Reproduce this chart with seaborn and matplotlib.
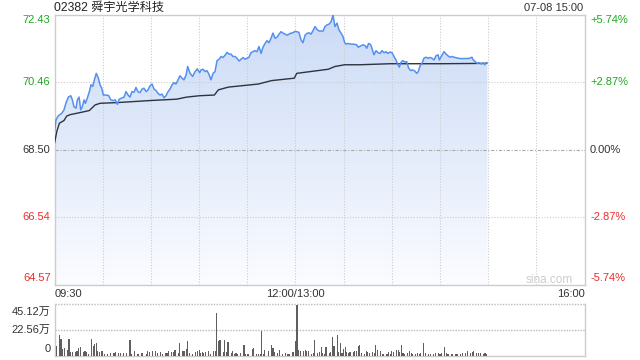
import numpy as np
import pandas as pd
import matplotlib
matplotlib.use("Agg")
import matplotlib.pyplot as plt
import seaborn as sns
from matplotlib.colors import LinearSegmentedColormap

# ---------------- data ----------------
title = "02382 舜宇光学科技"
stamp = "07-08 15:00"
y_ticks = [72.43, 70.46, 68.50, 66.54, 64.57]
y_labels = ["72.43", "70.46", "68.50", "66.54", "64.57"]
pct_labels = ["+5.74%", "+2.87%", "0.00%", "-2.87%", "-5.74%"]
x_ticks = [0, 150, 330]          # minutes of trading (lunch removed)
x_labels = ["09:30", "12:00/13:00", "16:00"]
vol_ticks = [45.12, 22.56, 0]
vol_labels = ["45.12万", "22.56万", "0"]

price_min = [0, 0.9, 2.4, 4.5, 5.9, 7.2, 8.6, 10.1, 11.1, 12.1,
             13.4, 14.2, 15.3, 16.3, 17.3, 18.4, 19.2, 20.4, 21.7, 22.7,
             23.8, 24.8, 26.0, 27.3, 28.3, 29.4, 30.4, 32.5, 33.8, 35.0,
             36.6, 37.9, 39.1, 40.3, 41.8, 43.3, 44.5, 45.8, 47.0, 48.2,
             49.5, 50.7, 51.9, 53.2, 54.5, 55.7, 57.0, 58.2, 59.5, 60.7,
             62.0, 63.2, 64.4, 65.7, 66.9, 68.2, 69.4, 70.7, 71.9, 73.2,
             74.4, 75.6, 76.9, 78.1, 79.4, 80.6, 81.9, 82.9, 84.4, 86.0,
             87.5, 88.9, 90.4, 91.2, 92.5, 93.7, 94.9, 96.2, 97.4, 98.7,
             99.9, 101.2, 102.4, 103.7, 104.9, 106.2, 107.4, 108.6, 109.9, 111.1,
             112.4, 113.6, 114.9, 116.1, 117.4, 118.6, 119.9, 121.1, 122.3, 123.6,
             124.8, 126.1, 127.3, 128.6, 129.8, 131.1, 132.3, 133.5, 134.8, 136.0,
             137.3, 138.5, 139.8, 141.0, 142.3, 143.5, 144.8, 146.0, 147.2, 148.5,
             149.7, 151.0, 152.2, 153.5, 154.7, 156.0, 157.2, 158.5, 159.7, 160.9,
             162.2, 163.4, 164.7, 165.9, 167.2, 168.4, 169.7, 170.9, 172.2, 173.4,
             174.6, 175.9, 177.1, 178.4, 179.6, 180.7, 181.5, 182.7, 184.0, 186.0,
             188.1, 189.1, 190.6, 192.3, 193.5, 194.4, 195.6, 196.9, 198.1, 198.9,
             200.2, 201.4, 202.7, 203.9, 205.2, 206.4, 207.6, 208.9, 210.1, 211.4,
             212.6, 213.9, 214.7, 215.6, 216.8, 218.1, 219.3, 220.5, 221.8, 223.0,
             224.3, 225.5, 226.5, 227.6, 228.8, 230.0, 231.3, 232.5, 233.8, 235.0,
             236.3, 237.5, 238.8, 239.6, 240.8, 242.5, 243.8, 245.0, 246.2, 247.5,
             248.7, 250.4, 252.5, 254.5, 256.6, 258.7, 259.9, 260.7, 262.0, 263.2,
             264.5, 265.7, 267.0, 267.8, 268.7, 269.5]
price_val = [69.03, 69.37, 69.49, 69.56, 69.66, 69.87, 70.03, 70.07, 69.95, 69.75,
             69.71, 69.95, 70.03, 69.66, 69.75, 69.95, 69.85, 70.00, 70.19, 70.39,
             70.34, 70.53, 70.72, 70.58, 70.39, 70.29, 70.09, 70.09, 70.07, 69.95,
             69.93, 69.95, 69.82, 69.97, 70.00, 70.03, 70.19, 70.09, 70.03, 70.19,
             70.17, 70.31, 70.19, 70.16, 70.26, 70.29, 70.19, 70.24, 70.36, 70.41,
             70.26, 70.22, 70.14, 70.09, 70.12, 70.01, 70.07, 70.19, 70.26, 70.39,
             70.45, 70.41, 70.53, 70.65, 70.58, 70.53, 70.67, 70.92, 70.72, 70.63,
             70.77, 70.85, 70.74, 70.82, 70.84, 70.77, 70.80, 70.69, 70.53, 70.72,
             70.77, 71.09, 71.13, 71.21, 71.18, 71.25, 71.33, 71.28, 71.28, 71.21,
             71.21, 71.16, 71.08, 71.13, 71.18, 71.13, 71.16, 71.19, 71.32, 71.35,
             71.38, 71.35, 71.50, 71.30, 71.48, 71.59, 71.67, 71.61, 71.74, 71.89,
             71.74, 71.77, 71.86, 71.93, 71.89, 71.86, 71.83, 71.86, 71.89, 71.90,
             71.94, 71.93, 71.91, 71.69, 71.61, 71.83, 71.88, 71.90, 71.86, 71.96,
             72.08, 72.00, 71.95, 71.95, 71.95, 72.08, 72.13, 72.15, 72.22, 72.42,
             72.08, 72.18, 71.98, 71.89, 71.79, 71.61, 71.57, 71.59, 71.57, 71.57,
             71.55, 71.48, 71.52, 71.55, 71.52, 71.45, 71.59, 71.55, 71.38, 71.26,
             71.38, 71.32, 71.30, 71.38, 71.32, 71.35, 71.30, 71.34, 71.32, 71.21,
             71.11, 70.97, 70.90, 71.03, 71.09, 71.05, 71.06, 70.87, 70.80, 70.82,
             70.79, 70.72, 70.77, 70.94, 71.01, 71.16, 71.19, 71.16, 71.18, 71.16,
             71.11, 71.23, 71.26, 71.11, 71.21, 71.35, 71.28, 71.23, 71.19, 71.21,
             71.19, 71.17, 71.15, 71.15, 71.15, 71.16, 71.19, 71.11, 71.06, 71.01,
             71.03, 70.99, 71.03, 70.97, 71.03, 71.03]

avg_min = [0, 1.4, 3.0, 5.9, 7.6, 9.7, 15.9, 21.7, 25.2, 28.3,
           38.7, 49.1, 59.5, 76.1, 82.3, 90.4, 99.5, 102.0, 108.2, 126.9,
           135.2, 149.3, 150.8, 170.5, 174.6, 180.7, 190.2, 208.9, 240.0, 269.1]
avg_val = [68.69, 69.03, 69.27, 69.35, 69.48, 69.52, 69.58, 69.64, 69.80, 69.85,
           69.87, 69.90, 69.93, 69.97, 70.03, 70.07, 70.09, 70.24, 70.32, 70.41,
           70.51, 70.58, 70.72, 70.84, 70.92, 70.97, 70.97, 71.00, 71.00, 71.01]

vol_min = [0, 1, 3, 4, 5, 6, 8, 9, 10, 11,
           13, 14, 15, 16, 18, 19, 20, 21, 23, 24,
           25, 26, 27, 28, 29, 30, 31, 33, 35, 37,
           38, 40, 41, 43, 45, 47, 48, 50, 52, 54,
           55, 57, 58, 59, 61, 63, 64, 66, 67, 69,
           70, 71, 73, 74, 75, 77, 78, 80, 81, 82,
           83, 84, 86, 88, 89, 90, 91, 92, 93, 94,
           96, 97, 99, 100, 101, 102, 103, 105, 106, 107,
           108, 110, 111, 112, 113, 114, 116, 118, 119, 120,
           121, 123, 124, 126, 127, 128, 129, 130, 131, 133,
           135, 136, 137, 139, 140, 142, 144, 145, 146, 148,
           149, 150, 151, 152, 153, 155, 156, 157, 158, 160,
           161, 162, 164, 165, 166, 167, 168, 169, 171, 172,
           173, 174, 176, 177, 178, 179, 180, 181, 182, 183,
           184, 186, 187, 188, 189, 190, 191, 193, 194, 195,
           196, 198, 199, 200, 201, 203, 204, 205, 207, 208,
           209, 210, 211, 213, 214, 215, 216, 217, 218, 220,
           221, 222, 223, 225, 226, 227, 228, 230, 231, 233,
           234, 236, 237, 239, 240, 241, 243, 244, 245, 247,
           248, 250, 251, 253, 254, 256, 257, 259, 260, 261,
           263, 264, 265, 267, 268, 269]
vol_val = [6.8, 8.0, 17.7, 14.8, 5.9, 6.5, 5.0, 15.0, 3.0, 3.5,
           3.5, 3.8, 6.8, 7.1, 3.5, 4.4, 3.0, 1.5, 14.2, 8.0,
           10.3, 10.9, 4.4, 3.5, 4.4, 4.4, 1.5, 1.5, 2.4, 2.1,
           2.7, 2.4, 2.1, 2.1, 2.1, 13.3, 0.9, 4.4, 1.5, 2.1,
           1.8, 1.5, 3.8, 3.0, 3.8, 4.4, 2.1, 3.0, 1.5, 2.1,
           2.1, 4.4, 3.0, 3.5, 5.3, 2.1, 10.9, 3.8, 3.8, 5.9,
           12.4, 2.1, 1.5, 2.7, 4.4, 5.3, 2.1, 3.0, 2.1, 3.0,
           3.8, 1.5, 4.4, 4.4, 37.5, 12.4, 13.9, 3.0, 13.3, 3.0,
           11.5, 2.4, 4.4, 1.5, 2.1, 1.5, 2.1, 9.7, 1.5, 1.5,
           1.5, 5.9, 6.8, 1.5, 1.5, 1.5, 21.5, 1.5, 5.0, 4.4,
           9.7, 6.8, 3.0, 2.4, 5.0, 1.5, 2.1, 1.5, 1.5, 3.0,
           2.7, 12.4, 44.3, 5.0, 4.4, 3.8, 5.0, 3.8, 3.8, 1.5,
           2.1, 13.3, 2.1, 3.0, 7.4, 2.1, 1.5, 7.4, 2.1, 3.0,
           16.2, 8.0, 17.7, 3.0, 10.9, 2.1, 5.9, 7.4, 3.0, 2.1,
           3.0, 3.0, 3.8, 4.4, 8.0, 8.9, 2.1, 1.5, 4.4, 3.0,
           2.1, 3.0, 2.1, 8.9, 5.0, 4.4, 1.5, 1.5, 1.5, 3.0,
           1.5, 3.8, 3.0, 5.0, 5.0, 3.0, 8.9, 2.1, 1.5, 2.1,
           4.4, 2.1, 1.5, 1.5, 2.1, 1.5, 2.1, 10.9, 2.1, 1.5,
           1.5, 1.5, 2.1, 2.1, 1.5, 2.1, 7.4, 2.1, 1.5, 1.5,
           1.5, 1.5, 1.5, 1.5, 2.1, 2.1, 4.4, 2.1, 3.0, 3.8,
           2.1, 2.1, 2.1, 1.5, 2.1, 1.5]

# ---------------- style ----------------
sns.set_style("white")
plt.rcParams["font.family"] = ["Liberation Sans", "Noto Sans CJK SC"]

GREEN = "#1fa81f"
RED = "#f02b2b"
DARK = "#333333"
GRID = "#cccccc"
label_colors = [GREEN, GREEN, DARK, RED, RED]

fig = plt.figure(figsize=(6.4, 3.6), dpi=100)
ax = fig.add_axes([0.0852, 0.2083, 0.8281, 0.7514])
vax = fig.add_axes([0.0852, 0.0125, 0.8281, 0.1417])

df = pd.DataFrame({"m": price_min, "p": price_val})
adf = pd.DataFrame({"m": avg_min, "p": avg_val})
ymin, ymax = y_ticks[-1], y_ticks[0]
xmax = x_ticks[-1]

# gradient fill under price line
poly = ax.fill_between(df["m"], df["p"], ymin, color="none", lw=0)
cmap = LinearSegmentedColormap.from_list("g", ["#fbfcff", "#cbdbf6"])
grad = np.linspace(1, 0, 256).reshape(-1, 1)
im = ax.imshow(grad, extent=[0, xmax, ymin, ymax], aspect="auto", cmap=cmap,
               vmin=0, vmax=1, zorder=1)
im.set_clip_path(poly.get_paths()[0], transform=ax.transData)

# grid
for m in range(30, xmax, 30):
    ax.axvline(m, color=GRID, lw=0.8, ls=(0, (1, 1.5)), zorder=2)
for y in (y_ticks[1], y_ticks[3]):
    ax.axhline(y, color=GRID, lw=0.8, ls=(0, (1, 1.5)), zorder=2)
ax.axhline(y_ticks[2], color="#aaaaaa", lw=0.8, ls=(0, (3, 1.5, 1, 1.5)), zorder=2)

sns.lineplot(data=adf, x="m", y="p", ax=ax, color="#2d3340", lw=1.0, zorder=3)
sns.lineplot(data=df, x="m", y="p", ax=ax, color="#5590ef", lw=1.1, zorder=4)

ax.set_xlim(0, xmax)
ax.set_ylim(ymin, ymax)
ax.set_xticks([])
ax.set_yticks([])
ax.set_xlabel("")
ax.set_ylabel("")
for s in ax.spines.values():
    s.set_color(GRID)
    s.set_linewidth(1)

# y labels
n = len(y_ticks)
for i, (y, lab, pct, col) in enumerate(zip(y_ticks, y_labels, pct_labels, label_colors)):
    dy = -5.5 if i == 0 else (7.0 if i == n - 1 else 0)
    ax.annotate(lab, xy=(0, y), xycoords=("axes fraction", "data"),
                xytext=(-4, dy), textcoords="offset pixels",
                ha="right", va="center", fontsize=8, color=col)
    ax.annotate(pct, xy=(1, y), xycoords=("axes fraction", "data"),
                xytext=(5.5, dy), textcoords="offset pixels",
                ha="left", va="center", fontsize=8, color=col)

# x labels
for m, lab, ha in zip(x_ticks, x_labels, ["left", "center", "right"]):
    ax.annotate(lab, xy=(m, 0), xycoords=("data", "axes fraction"),
                xytext=(0, -8.5), textcoords="offset pixels",
                ha=ha, va="center", fontsize=8, color=DARK)

ax.text(0.978, 0.009, "sina.com", transform=ax.transAxes, ha="right",
        va="baseline", fontsize=8.5, color="#cdcdcd", zorder=5)

fig.text(54.3 / 640, 1 - 7.7 / 360, title, ha="left", va="center",
         fontsize=8.7, color="#222222")
fig.text(583.5 / 640, 1 - 7.7 / 360, stamp, ha="right", va="center",
         fontsize=8, color=DARK)

# volume panel
vax.bar(vol_min, vol_val, width=0.7, color="#5f5f5f", lw=0, zorder=3)
vax.set_xlim(0, xmax)
vax.set_ylim(0, vol_ticks[0])
vax.set_xticks([])
vax.set_yticks([])
vax.spines["top"].set_visible(False)
for k in ("left", "right", "bottom"):
    vax.spines[k].set_color(GRID)
    vax.spines[k].set_linewidth(1)
for v in vol_ticks[:2]:
    vax.axhline(v, color="#bbbbbb", lw=1, ls=(0, (1, 1)), clip_on=False, zorder=2)
for i, (v, lab) in enumerate(zip(vol_ticks, vol_labels)):
    dy = -7.5 if i == 0 else (7.0 if i == len(vol_ticks) - 1 else 0)
    vax.annotate(lab, xy=(0, v), xycoords=("axes fraction", "data"),
                 xytext=(-4, dy), textcoords="offset pixels",
                 ha="right", va="center", fontsize=8, color=DARK)

fig.savefig("out.png", dpi=100)
